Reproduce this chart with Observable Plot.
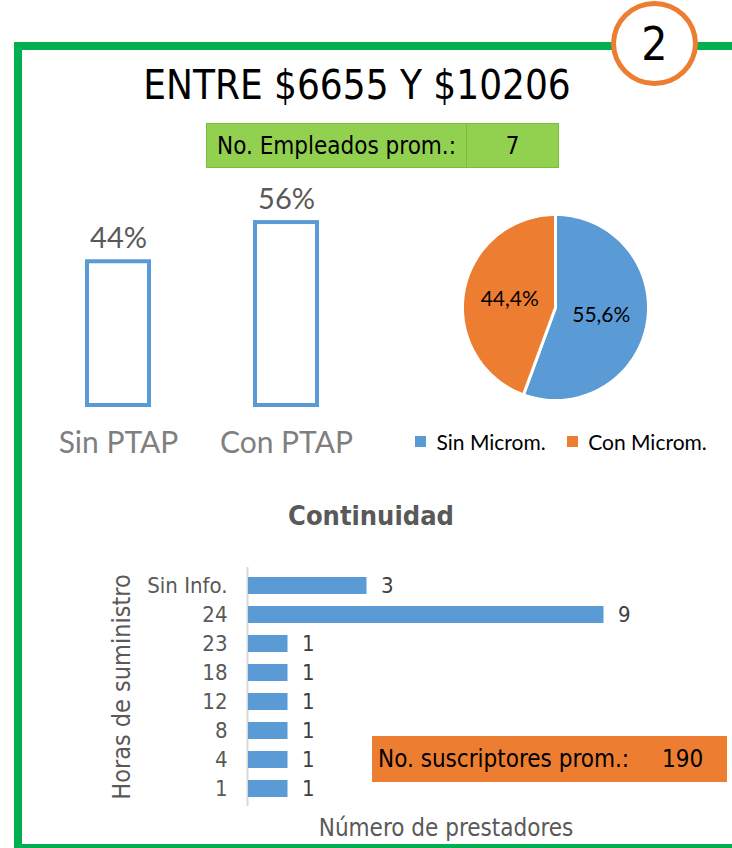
<!DOCTYPE html>
<html>
<head>
<meta charset="utf-8">
<script src="https://cdn.jsdelivr.net/npm/d3@7"></script>
<script src="https://cdn.jsdelivr.net/npm/@observablehq/plot@0.6"></script>
<style>
  html, body { margin: 0; padding: 0; background: #fff; }
  body { width: 732px; height: 848px; position: relative; overflow: hidden; }
  .abs { position: absolute; }
  .narrow { font-family: "Liberation Sans Narrow", "DejaVu Sans Condensed", sans-serif; }
  .cal { font-family: Lato, "Open Sans", sans-serif; }
  #frame { left: 14px; top: 42px; width: 800px; height: 810px; border: 8px solid #00b050; box-sizing: border-box; }
  #badge { left: 611px; top: 1px; width: 87px; height: 85px; border-radius: 50%; border: 5px solid #ed7d31; background: #fff; box-sizing: border-box;
           display: flex; align-items: center; justify-content: center; font-size: 46px; color: #000; }
  #title { left: 0; width: 714px; top: 60px; text-align: center; font-size: 40px; color: #000; line-height: 50px; }
  #emp { left: 206px; top: 123px; width: 353px; height: 45px; background: #92d050; border: 1px solid #7dba3f; box-sizing: border-box; display: flex; font-size: 24px; color: #000; }
  #emp .l { width: 260px; border-right: 1px solid #7dba3f; display: flex; align-items: center; padding-left: 10px; box-sizing: border-box; }
  #emp .r { flex: 1; display: flex; align-items: center; justify-content: center; }
  #subs { left: 372px; top: 736px; width: 355px; height: 46px; background: #ed7d31; display: flex; align-items: center; font-size: 24px; color: #000; }
  #subs .l { padding-left: 6px; width: 284px; }
  #subs .r { flex: 1; }
  #contTitle { left: 0; width: 742px; top: 498px; text-align: center; font-size: 27px; font-weight: bold; color: #595959; line-height: 36px; }
</style>
</head>
<body>
<div id="frame" class="abs"></div>
<div id="badge" class="abs narrow"></div>
<div id="title" class="abs narrow"></div>
<div id="emp" class="abs narrow"><div class="l"></div><div class="r"></div></div>
<div id="ptap" class="abs" style="left:0px; top:180px;"></div>
<div id="pie" class="abs" style="left:455px; top:207px;"></div>
<div id="legend" class="abs" style="left:415px; top:425px;"></div>
<div id="contTitle" class="abs narrow"></div>
<div id="cont" class="abs" style="left:100px; top:540px;"></div>
<div id="subs" class="abs narrow"><div class="l"></div><div class="r"></div></div>
<script>
// ---- data ----
const badgeNumber = "2";
const titleText = "ENTRE $6655 Y $10206";
const employeesLabel = "No. Empleados prom.:";
const employeesAvg = 7;
const subscribersLabel = "No. suscriptores prom.:";
const subscribersAvg = 190;

const ptapCategories = ["Sin PTAP", "Con PTAP"];
const ptapValues = [44, 56];

const microCategories = ["Sin Microm.", "Con Microm."];
const microValues = [55.6, 44.4];
const microColors = ["#5b9bd5", "#ed7d31"];

const contTitle = "Continuidad";
const hoursCategories = ["Sin Info.", "24", "23", "18", "12", "8", "4", "1"];
const hoursValues = [3, 9, 1, 1, 1, 1, 1, 1];
const hoursAxisLabel = "Horas de suministro";
const providersAxisLabel = "Número de prestadores";

// ---- header texts ----
document.getElementById("badge").textContent = badgeNumber;
document.getElementById("title").textContent = titleText;
document.querySelector("#emp .l").textContent = employeesLabel;
document.querySelector("#emp .r").textContent = employeesAvg;
document.querySelector("#subs .l").textContent = subscribersLabel;
document.querySelector("#subs .r").textContent = subscribersAvg;
document.getElementById("contTitle").textContent = contTitle;

const CAL = "Lato, 'Open Sans', sans-serif";
const NAR = "'Liberation Sans Narrow', 'DejaVu Sans Condensed', sans-serif";

// ---- PTAP bars ----
const ptapData = ptapCategories.map((c, i) => ({cat: c, val: ptapValues[i]}));
document.getElementById("ptap").append(Plot.plot({
  width: 400, height: 290,
  marginLeft: 37, marginRight: 32, marginTop: 29, marginBottom: 65,
  style: {fontFamily: CAL, background: "transparent", overflow: "visible"},
  x: {domain: ptapCategories, paddingInner: 0.63, paddingOuter: 0.3, label: null},
  y: {domain: [0, 60], axis: null},
  marks: [
    Plot.barY(ptapData, {x: "cat", y: "val", fill: "white", stroke: "#5b9bd5", strokeWidth: 4}),
    Plot.text(ptapData, {x: "cat", y: "val", text: d => d.val + "%", dy: -14, lineAnchor: "bottom", fontSize: 29, fill: "#595959"}),
    Plot.axisX({tickSize: 0, tickPadding: 26, fontSize: 30, fill: "#7f7f7f", label: null})
  ]
}));

// ---- Pie ----
const pieArcs = d3.pie().sort(null)(microValues);
const piePoints = [];
pieArcs.forEach((a, i) => {
  const cat = microCategories[i];
  piePoints.push({cat, x: 0, y: 0});
  const n = 80;
  for (let k = 0; k <= n; k++) {
    const t = a.startAngle + (a.endAngle - a.startAngle) * k / n;
    piePoints.push({cat, x: Math.sin(t), y: Math.cos(t)});
  }
  piePoints.push({cat, x: 0, y: 0});
});
const pieLabels = pieArcs.map((a, i) => {
  const m = (a.startAngle + a.endAngle) / 2;
  return {cat: microCategories[i], x: 0.5 * Math.sin(m), y: 0.5 * Math.cos(m), text: microValues[i].toFixed(1).replace(".", ",") + "%"};
});
document.getElementById("pie").append(Plot.plot({
  width: 200, height: 200, margin: 0,
  style: {background: "transparent", overflow: "visible", fontFamily: CAL},
  x: {domain: [-1.075, 1.075], axis: null},
  y: {domain: [-1.075, 1.075], axis: null},
  color: {domain: microCategories, range: microColors},
  marks: [
    Plot.line(piePoints, {x: "x", y: "y", z: "cat", fill: "cat", stroke: "white", strokeWidth: 3, strokeLinejoin: "round"}),
    Plot.text(pieLabels, {x: "x", y: "y", text: "text", fontSize: 21, fill: "#000"})
  ]
}));

// ---- Legend ----
document.getElementById("legend").append(Plot.legend({
  color: {domain: microCategories, range: microColors, type: "ordinal"},
  swatchSize: 11,
  style: {fontFamily: CAL, fontSize: "21px", color: "#000"}
}));

// ---- Continuidad ----
const contData = hoursCategories.map((h, i) => ({h, v: hoursValues[i]}));
document.getElementById("cont").append(Plot.plot({
  width: 632, height: 305,
  marginLeft: 148, marginRight: 89, marginTop: 21, marginBottom: 33,
  style: {fontFamily: NAR, background: "transparent", overflow: "visible"},
  x: {domain: [0, 10], axis: null},
  y: {domain: hoursCategories, paddingInner: 0.43, paddingOuter: 0.43, label: null},
  marks: [
    Plot.ruleX([0], {stroke: "#d9d9d9", strokeWidth: 2, insetTop: 6, insetBottom: 6, dx: -1}),
    Plot.barX(contData, {x: "v", y: "h", fill: "#5b9bd5"}),
    Plot.text(contData, {x: "v", y: "h", text: "v", textAnchor: "start", dx: 14, fontSize: 22, fill: "#404040"}),
    Plot.axisY({tickSize: 0, tickPadding: 21, fontSize: 22, fill: "#595959", label: null}),
    Plot.text([hoursAxisLabel], {frameAnchor: "left", textAnchor: "middle", lineAnchor: "middle", rotate: -90, dx: -127, fontSize: 25, fill: "#595959"}),
    Plot.text([providersAxisLabel], {frameAnchor: "bottom", textAnchor: "middle", lineAnchor: "middle", dy: 16, fontSize: 24, fill: "#595959"})
  ]
}));
</script>
</body>
</html>
